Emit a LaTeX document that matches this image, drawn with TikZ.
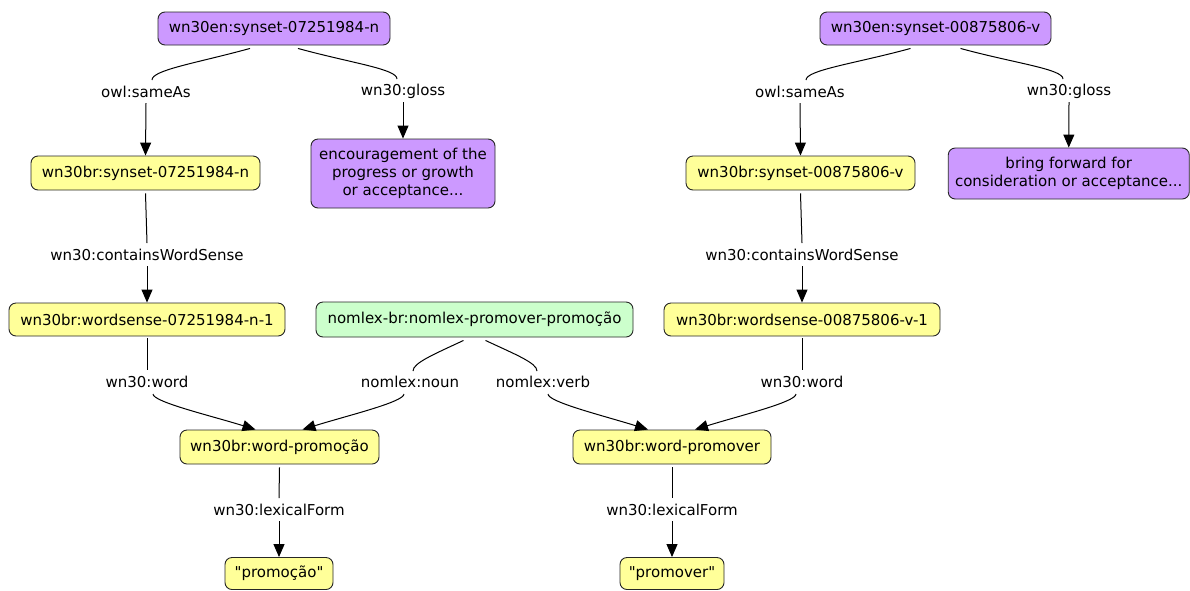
\documentclass[tikz,border=0pt]{standalone}
\usepackage{fontspec}
\setmainfont{DejaVu Sans}[Ligatures=TeXOff]
\usetikzlibrary{arrows.meta,calc}
\definecolor{purp}{RGB}{204,153,255}
\definecolor{yel}{RGB}{255,255,153}
\definecolor{grn}{RGB}{204,255,204}
\begin{document}
\begin{tikzpicture}[x=1pt,y=-1pt,
  box/.style={draw=black!85, line width=0.9pt, rounded corners=7pt, inner sep=0pt, align=center, font=\fontsize{15}{18}\selectfont},
  lab/.style={inner sep=0pt, font=\fontsize{15}{18}\selectfont},
  edge/.style={line width=1pt, black},
  arr/.style={edge, -{Triangle[length=13pt,width=11pt]}}]
\useasboundingbox[fill=white] (0,0) rectangle (1190,590);
% nodes
\node[box, fill=purp, minimum width=232, minimum height=33] (A) at (274,28.5) {wn30en:synset-07251984-n};
\node[box, fill=purp, minimum width=231, minimum height=33] (B) at (935.5,28.5) {wn30en:synset-00875806-v};
\node[box, fill=yel, minimum width=229, minimum height=34] (C) at (145.5,173) {wn30br:synset-07251984-n};
\node[box, fill=purp, minimum width=184, minimum height=69] (D) at (403,173.5) {encouragement of the\\progress or growth\\or acceptance...};
\node[box, fill=yel, minimum width=229, minimum height=34] (E) at (800.5,173) {wn30br:synset-00875806-v};
\node[box, fill=purp, minimum width=241, minimum height=51] (F) at (1068.75,173.5) {bring forward for\\consideration or acceptance...};
\node[box, fill=yel, minimum width=276, minimum height=33] (G) at (147,319.5) {wn30br:wordsense-07251984-n-1};
\node[box, fill=grn, minimum width=317, minimum height=35] (H) at (474.5,319.5) {nomlex-br:nomlex-promover-promoção};
\node[box, fill=yel, minimum width=276, minimum height=33] (I) at (802,319.5) {wn30br:wordsense-00875806-v-1};
\node[box, fill=yel, minimum width=199, minimum height=34] (J) at (279.5,447) {wn30br:word-promoção};
\node[box, fill=yel, minimum width=198, minimum height=34] (K) at (672,447) {wn30br:word-promover};
\node[box, fill=yel, minimum width=108, minimum height=32] (L) at (279,573.5) {"promoção"};
\node[box, fill=yel, minimum width=104, minimum height=32] (M) at (672,573.5) {"promover"};
% labels
\node[lab] (l1) at (146,92) {owl:sameAs};
\node[lab] (l2) at (403,91) {wn30:gloss};
\node[lab] (l3) at (800,92) {owl:sameAs};
\node[lab] (l4) at (1069,91) {wn30:gloss};
\node[lab] (l5) at (147,255) {wn30:containsWordSense};
\node[lab] (l6) at (802,255) {wn30:containsWordSense};
\node[lab] (l7) at (147,382) {wn30:word};
\node[lab] (l8) at (410,382) {nomlex:noun};
\node[lab] (l9) at (543,382) {nomlex:verb};
\node[lab] (l10) at (802,382) {wn30:word};
\node[lab] (l11) at (279,510) {wn30:lexicalForm};
\node[lab] (l12) at (672,510) {wn30:lexicalForm};
% edges
\draw[edge] ($(A.south)+(-24,3)$) .. controls +(-55,15) and +(0,-10) .. ($(l1)+(6,-12)$);
\draw[arr] ($(l1)+(0,11)$) -- (C.north);
\draw[edge] ($(A.south)+(24,3)$) .. controls +(55,15) and +(0,-10) .. ($(l2)+(-6,-12)$);
\draw[arr] ($(l2)+(0,11)$) -- (D.north);
\draw[edge] ($(B.south)+(-25,3)$) .. controls +(-55,15) and +(0,-10) .. ($(l3)+(6,-12)$);
\draw[arr] ($(l3)+(0,11)$) -- (E.north);
\draw[edge] ($(B.south)+(25,3)$) .. controls +(55,15) and +(0,-10) .. ($(l4)+(-6,-12)$);
\draw[arr] ($(l4)+(0,11)$) -- (F.north);
\draw[edge] ($(C.south)+(0,3)$) -- ($(l5)+(0,-12)$);
\draw[arr] ($(l5)+(0,11)$) -- (G.north);
\draw[edge] ($(E.south)+(0,3)$) -- ($(l6)+(0,-12)$);
\draw[arr] ($(l6)+(0,11)$) -- (I.north);
\draw[edge] ($(G.south)+(0,2)$) -- ($(l7)+(0,-12)$);
\draw[arr] ($(l7)+(6,12)$) .. controls +(0,8) and +(-45,-14) .. ($(J.north)+(-24,0)$);
\draw[edge] ($(H.south)+(-11,3)$) .. controls +(-30,14) and +(0,-8) .. ($(l8)+(3,-11)$);
\draw[arr] ($(l8)+(-6,12)$) .. controls +(0,8) and +(45,-14) .. ($(J.north)+(23,0)$);
\draw[edge] ($(H.south)+(11,3)$) .. controls +(30,14) and +(0,-8) .. ($(l9)+(-6,-11)$);
\draw[arr] ($(l9)+(5,12)$) .. controls +(0,8) and +(-45,-14) .. ($(K.north)+(-24,0)$);
\draw[edge] ($(I.south)+(0,2)$) -- ($(l10)+(0,-12)$);
\draw[arr] ($(l10)+(-6,12)$) .. controls +(0,8) and +(45,-14) .. ($(K.north)+(23,0)$);
\draw[edge] ($(J.south)+(0,3)$) -- ($(l11)+(0,-12)$);
\draw[arr] ($(l11)+(0,11)$) -- (L.north);
\draw[edge] ($(K.south)+(0,3)$) -- ($(l12)+(0,-12)$);
\draw[arr] ($(l12)+(0,11)$) -- (M.north);
\end{tikzpicture}
\end{document}
